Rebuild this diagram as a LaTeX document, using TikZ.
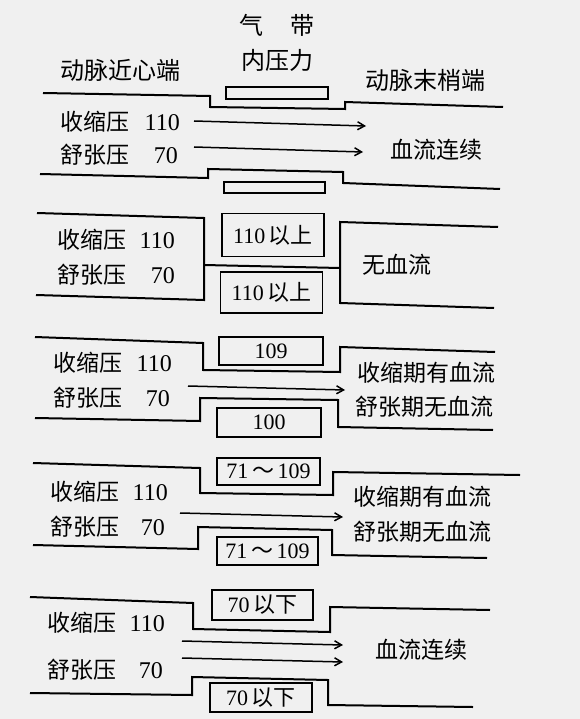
\documentclass[tikz,border=0pt]{standalone}
\usepackage{fontspec}
\setmainfont{Liberation Serif}
\newfontfamily\cjk{Noto Sans CJK SC}
\usetikzlibrary{arrows.meta}
\tikzset{
  vessel/.style={line width=2pt, line join=miter},
  cuff/.style={draw, line width=1.7pt},
  flow/.style={line width=1.5pt, -{Straight Barb[length=7pt,width=8pt,line width=1.5pt]}},
  lab/.style={font=\cjk\fontsize{23}{24}\selectfont, inner sep=0pt, anchor=west},
  head/.style={font=\cjk\fontsize{24}{26}\selectfont, inner sep=0pt, anchor=west},
  num/.style={font=\fontsize{24}{24}\selectfont, inner sep=0pt, anchor=east},
  boxtxt/.style={font=\fontsize{22}{24}\selectfont, inner sep=0pt}
}
\begin{document}
\begin{tikzpicture}[x=1pt,y=-1pt]
\useasboundingbox[fill=black!6] (0,0) rectangle (580,719);

% ---------- header ----------
\node[head,anchor=center] (hq) at (251,25) {气};
\node[head,anchor=center] (hd) at (302,25) {带};
\node[head,anchor=center] (hn) at (277,60) {内压力};
\node[head] (hl) at (60,70) {动脉近心端};
\node[head] (hr) at (365,80) {动脉末梢端};

% ---------- panel 1 ----------
\draw[vessel] (43,93) -- (210,96) -- (210,107) -- (345,109) -- (345,102) -- (503,107);
\draw[vessel] (40,174) -- (208,178) -- (208,169) -- (343,172) -- (343,183) -- (500,189);
\draw[cuff] (226,87) rectangle (328,99);
\draw[cuff] (224,182) rectangle (325,193);
\node[lab] (s1) at (60,122) {收缩压};
\node[num] (s1n) at (180,123) {110};
\node[lab] (d1) at (60,155) {舒张压};
\node[num] (d1n) at (178,156) {70};
\coordinate (a1s) at (194,121); \coordinate (a1e) at (366,126);
\coordinate (b1s) at (194,147); \coordinate (b1e) at (363,152);
\draw[flow] (a1s) -- (a1e);
\draw[flow] (b1s) -- (b1e);
\node[lab] (r1) at (390,150) {血流连续};

% ---------- panel 2 ----------
\draw[vessel] (37,213) -- (204,218) -- (204,300) -- (36,295);
\draw[vessel] (498,227) -- (340,222) -- (340,303) -- (494,308);
\draw[vessel] (204,265) -- (340,268);
\node[cuff,boxtxt,minimum width=102pt,minimum height=43pt,inner sep=0pt] (c2t) at (273,235) {110\,{\cjk 以上}};
\node[cuff,boxtxt,minimum width=102pt,minimum height=41pt,inner sep=0pt] (c2b) at (271.5,292.5) {110\,{\cjk 以上}};
\node[lab] (s2) at (57,240) {收缩压};
\node[num] (s2n) at (175,241) {110};
\node[lab] (d2) at (57,275) {舒张压};
\node[num] (d2n) at (175,276) {70};
\node[lab] (r2) at (362,265) {无血流};

% ---------- panel 3 ----------
\draw[vessel] (35,337) -- (203,343) -- (203,370) -- (340,372) -- (340,347) -- (495,352);
\draw[vessel] (35,418) -- (200,421) -- (200,398) -- (338,400) -- (338,427) -- (493,430);
\node[cuff,boxtxt,minimum width=104pt,minimum height=28pt,inner sep=0pt] (c3t) at (271,351) {109};
\node[cuff,boxtxt,minimum width=104pt,minimum height=29pt,inner sep=0pt] (c3b) at (269,422.5) {100};
\node[lab] (s3) at (53,363) {收缩压};
\node[num] (s3n) at (172,364) {110};
\node[lab] (d3) at (53,398) {舒张压};
\node[num] (d3n) at (170,399) {70};
\coordinate (a3s) at (188,386); \coordinate (a3e) at (345,390);
\draw[flow] (a3s) -- (a3e);
\node[lab] (r3a) at (357,373) {收缩期有血流};
\node[lab] (r3b) at (355,407) {舒张期无血流};

% ---------- panel 4 ----------
\draw[vessel] (33,463) -- (200,468) -- (200,493) -- (333,495) -- (333,472) -- (520,475);
\draw[vessel] (33,545) -- (198,549) -- (198,527) -- (332,530) -- (332,555) -- (487,558);
\node[cuff,boxtxt,minimum width=103pt,minimum height=27pt,inner sep=0pt] (c4t) at (268.5,471.5) {71\,{\cjk ～}\,109};
\node[cuff,boxtxt,minimum width=101pt,minimum height=28pt,inner sep=0pt] (c4b) at (267.5,551) {71\,{\cjk ～}\,109};
\node[lab] (s4) at (50,492) {收缩压};
\node[num] (s4n) at (168,493) {110};
\node[lab] (d4) at (50,527) {舒张压};
\node[num] (d4n) at (165,528) {70};
\coordinate (a4s) at (180,513); \coordinate (a4e) at (343,517);
\draw[flow] (a4s) -- (a4e);
\node[lab] (r4a) at (353,497) {收缩期有血流};
\node[lab] (r4b) at (353,532) {舒张期无血流};

% ---------- panel 5 ----------
\draw[vessel] (30,597) -- (193,603) -- (193,629) -- (330,632) -- (330,607) -- (490,610);
\draw[vessel] (30,693) -- (192,695) -- (192,677) -- (328,680) -- (328,705) -- (473,707);
\node[cuff,boxtxt,minimum width=101pt,minimum height=30pt,inner sep=0pt] (c5t) at (262.5,605) {70\,{\cjk 以下}};
\node[cuff,boxtxt,minimum width=102pt,minimum height=29pt,inner sep=0pt] (c5b) at (261,697.5) {70\,{\cjk 以下}};
\node[lab] (s5) at (47,623) {收缩压};
\node[num] (s5n) at (165,624) {110};
\node[lab] (d5) at (47,670) {舒张压};
\node[num] (d5n) at (163,671) {70};
\coordinate (a5s) at (182,641); \coordinate (a5e) at (343,645);
\coordinate (b5s) at (182,658); \coordinate (b5e) at (343,662);
\draw[flow] (a5s) -- (a5e);
\draw[flow] (b5s) -- (b5e);
\node[lab] (r5) at (375,650) {血流连续};
\end{tikzpicture}
\end{document}
